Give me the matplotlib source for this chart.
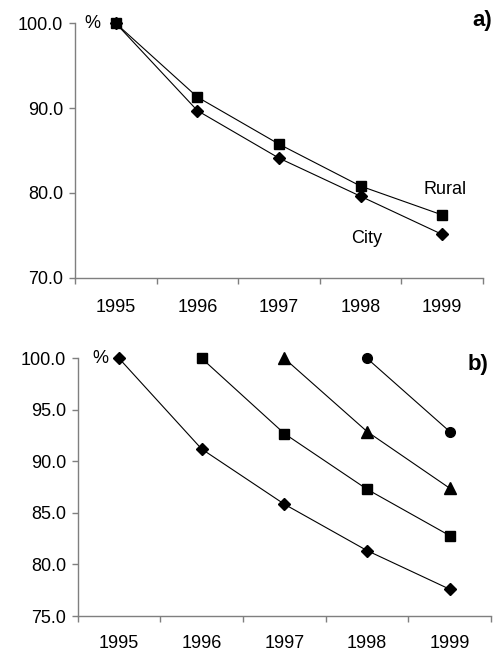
import matplotlib
matplotlib.use("Agg")
import matplotlib.pyplot as plt

plt.rcParams['font.family'] = ['Liberation Sans', 'DejaVu Sans']

years = ["1995", "1996", "1997", "1998", "1999"]

# Panel a: index of survivors (1995 = 100)
rural = [100.0, 91.3, 85.75, 80.8, 77.4]
city = [100.0, 89.7, 84.1, 79.6, 75.1]

# Panel b: cohorts starting in successive years
cohort_1995 = [100.0, 91.2, 85.85, 81.35, 77.6]
cohort_1996 = [None, 100.0, 92.7, 87.3, 82.8]
cohort_1997 = [None, None, 100.0, 92.9, 87.4]
cohort_1998 = [None, None, None, 100.0, 92.9]

a_yticks = [70.0, 80.0, 90.0, 100.0]
b_yticks = [75.0, 80.0, 85.0, 90.0, 95.0, 100.0]

fig = plt.figure(figsize=(4.97, 6.54), dpi=100)
ax_a = fig.add_axes([0.1509, 0.5754, 0.8209, 0.3890])
ax_b = fig.add_axes([0.1563, 0.0581, 0.8316, 0.3940])

axis_col = "#7f7f7f"
fs = 13


def style_axes(ax, yticks, xpad):
    n = len(years)
    ax.set_xlim(-0.5, n - 0.5)
    ax.set_ylim(yticks[0], yticks[-1])
    for s in ("top", "right"):
        ax.spines[s].set_visible(False)
    for s in ("left", "bottom"):
        ax.spines[s].set_color(axis_col)
        ax.spines[s].set_linewidth(1.0)
    ax.set_yticks(yticks)
    ax.set_yticklabels([f"{v:.1f}" for v in yticks])
    ax.set_xticks([i - 0.5 for i in range(n + 1)])
    ax.set_xticklabels([])
    ax.set_xticks(list(range(n)), minor=True)
    ax.set_xticklabels(years, minor=True)
    ax.tick_params(axis="x", which="major", direction="out", length=4.5,
                   color=axis_col, width=1.0)
    ax.tick_params(axis="x", which="minor", length=0, pad=xpad,
                   labelsize=fs)
    ax.tick_params(axis="y", direction="out", length=4.5, color=axis_col,
                   width=1.0, labelsize=fs, pad=4)


def plot_series(ax, vals, marker, ms):
    xs = [i for i, v in enumerate(vals) if v is not None]
    ys = [v for v in vals if v is not None]
    ax.plot(xs, ys, color="black", linewidth=0.8, marker=marker,
            markersize=ms, markerfacecolor="black",
            markeredgecolor="black", clip_on=False, zorder=3)


# ---- panel a ----
plot_series(ax_a, rural, "s", 7.5)
plot_series(ax_a, city, "D", 6)
style_axes(ax_a, a_yticks, 15)
ax_a.text(4.03, 80.4, "Rural", fontsize=fs, ha="center", va="center")
ax_a.text(3.08, 74.65, "City", fontsize=fs, ha="center", va="center")
ax_a.text(-0.29, 100.0, "%", fontsize=fs, ha="center", va="center")
ax_a.text(1.022, 1.01, "a)", transform=ax_a.transAxes, fontsize=16,
          fontweight="bold", ha="right", va="center")

# ---- panel b ----
plot_series(ax_b, cohort_1995, "D", 6)
plot_series(ax_b, cohort_1996, "s", 7.5)
plot_series(ax_b, cohort_1997, "^", 8)
plot_series(ax_b, cohort_1998, "o", 7)
style_axes(ax_b, b_yticks, 14)
ax_b.text(-0.22, 100.0, "%", fontsize=fs, ha="center", va="center")
ax_b.text(0.995, 0.975, "b)", transform=ax_b.transAxes, fontsize=16,
          fontweight="bold", ha="right", va="center")

fig.savefig("out.png", dpi=100)
